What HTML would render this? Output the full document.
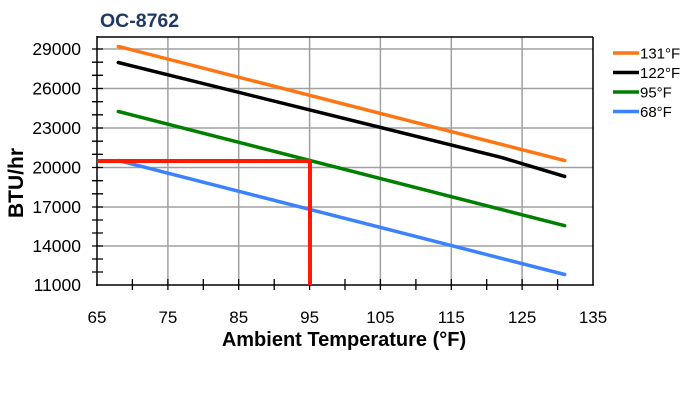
<!DOCTYPE html>
<html><head><style>body{margin:0;background:#fff}</style></head><body>
<svg width="700" height="400" xmlns="http://www.w3.org/2000/svg" font-family="Liberation Sans, sans-serif">
<rect width="700" height="400" fill="#fff"/>
<text x="100" y="27" font-size="19.5" font-weight="bold" fill="#1f3864">OC-8762</text>
<g stroke="#a0a0a0" stroke-width="1.5">
<line x1="167.9" y1="37" x2="167.9" y2="285"/>
<line x1="238.7" y1="37" x2="238.7" y2="285"/>
<line x1="309.6" y1="37" x2="309.6" y2="285"/>
<line x1="380.4" y1="37" x2="380.4" y2="285"/>
<line x1="451.3" y1="37" x2="451.3" y2="285"/>
<line x1="522.1" y1="37" x2="522.1" y2="285"/>
<line x1="97" y1="49" x2="593" y2="49"/>
<line x1="97" y1="88.5" x2="593" y2="88.5"/>
<line x1="97" y1="128" x2="593" y2="128"/>
<line x1="97" y1="167.5" x2="593" y2="167.5"/>
<line x1="97" y1="207" x2="593" y2="207"/>
<line x1="97" y1="246" x2="593" y2="246"/>
</g>
<g stroke="#000" stroke-width="1.5">
<line x1="97" y1="37" x2="593" y2="37"/>
<line x1="593" y1="37" x2="593" y2="285"/>
<line x1="97" y1="36" x2="97" y2="286"/>
<line x1="96" y1="285" x2="594" y2="285"/>
</g>
<g stroke="#000" stroke-width="1.3">
<path d="M92 49h11M92 62.2h11M92 75.3h11M92 88.5h11M92 101.7h11M92 114.8h11M92 128h11M92 141.2h11M92 154.3h11M92 167.5h11M92 180.7h11M92 193.8h11M92 207h11M92 220h11M92 233h11M92 246h11M92 259h11M92 272h11"/>
<path d="M132.4 279v11M167.9 279v11M203.3 279v11M238.7 279v11M274.2 279v11M309.6 279v11M345 279v11M380.4 279v11M415.9 279v11M451.3 279v11M486.7 279v11M522.1 279v11M557.6 279v11"/>
</g>
<g fill="none" stroke-width="3.5" stroke-linecap="round">
<polyline points="118.3,46.4 564.7,160.6" stroke="#ff7514"/>
<polyline points="118.3,62.5 500.9,157.3 564.7,176.4" stroke="#000"/>
<polyline points="118.3,111.5 564.7,225.7" stroke="#008000"/>
<polyline points="118.3,160.5 564.7,274.5" stroke="#3c82ff"/>
</g>
<polyline points="97,161 310,161 310,285" fill="none" stroke="#ff1a00" stroke-width="4"/>
<g font-size="17.5" text-anchor="end" fill="#000">
<text x="81" y="55">29000</text>
<text x="81" y="94.5">26000</text>
<text x="81" y="134">23000</text>
<text x="81" y="173.5">20000</text>
<text x="81" y="213">17000</text>
<text x="81" y="252">14000</text>
<text x="81" y="291">11000</text>
</g>
<g font-size="17" text-anchor="middle" fill="#000">
<text x="97" y="323">65</text>
<text x="167.9" y="323">75</text>
<text x="238.7" y="323">85</text>
<text x="309.6" y="323">95</text>
<text x="380.4" y="323">105</text>
<text x="451.3" y="323">115</text>
<text x="522.1" y="323">125</text>
<text x="593" y="323">135</text>
</g>
<text x="344" y="346" font-size="20" font-weight="bold" text-anchor="middle">Ambient Temperature (°F)</text>
<text transform="translate(23,183) rotate(-90)" font-size="21" font-weight="bold" text-anchor="middle">BTU/hr</text>
<g stroke-width="3.5">
<line x1="613" y1="53" x2="639" y2="53" stroke="#ff7514"/>
<line x1="613" y1="72.5" x2="639" y2="72.5" stroke="#000"/>
<line x1="613" y1="92" x2="639" y2="92" stroke="#008000"/>
<line x1="613" y1="111.5" x2="639" y2="111.5" stroke="#3c82ff"/>
</g>
<g font-size="15" fill="#000">
<text x="640" y="58.5">131°F</text>
<text x="640" y="78">122°F</text>
<text x="640" y="97.5">95°F</text>
<text x="640" y="117">68°F</text>
</g>
</svg>
</body></html>
